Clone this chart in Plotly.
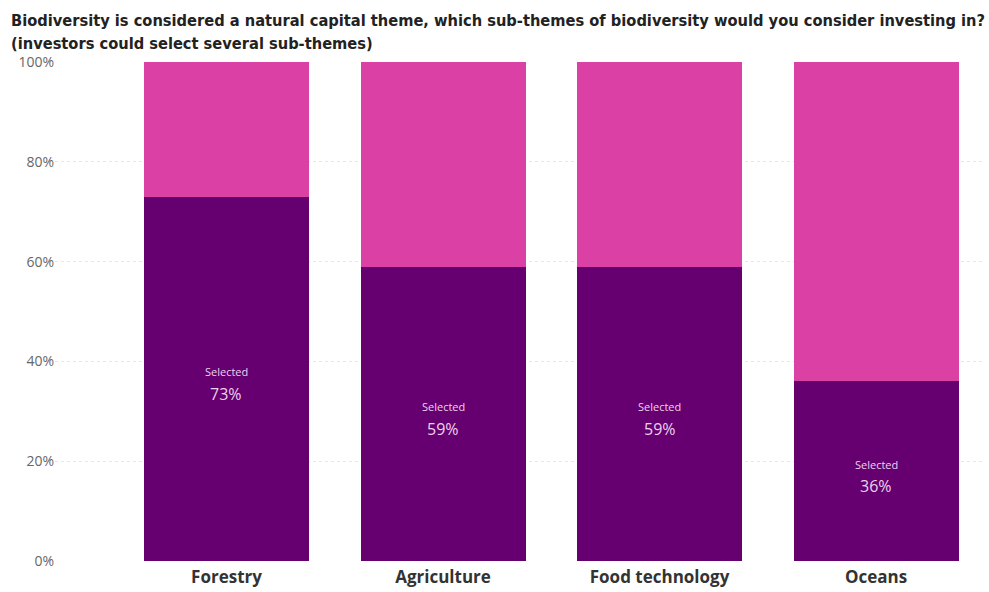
import plotly.graph_objects as go

categories = ["Forestry", "Agriculture", "Food technology", "Oceans"]
selected = [73, 59, 59, 36]
not_selected = [27, 41, 41, 64]
y_ticks = [0, 20, 40, 60, 80, 100]
y_tick_labels = ["0%", "20%", "40%", "60%", "80%", "100%"]

x_pos = list(range(len(categories)))
PURPLE = "#660070"
PINK = "#DB40A4"
LABEL = "#EBD3EC"

fig = go.Figure()
fig.add_trace(go.Bar(
    x=x_pos, y=selected, width=0.762, marker=dict(color=PURPLE, line=dict(width=0)),
    hoverinfo="skip", name="Selected",
))
fig.add_trace(go.Bar(
    x=x_pos, y=not_selected, width=0.762, marker=dict(color=PINK, line=dict(width=0)),
    hoverinfo="skip", name="Not selected",
))

# Two-line value labels centred in the "Selected" segment
for xi, v in zip(x_pos, selected):
    fig.add_annotation(x=xi, y=v / 2, text="Selected", showarrow=False, yshift=7,
                       font=dict(family="Open Sans", size=11, color=LABEL))
    fig.add_annotation(x=xi, y=v / 2, text=f"{v}%", showarrow=False, yshift=-15,
                       font=dict(family="Open Sans", size=16, color=LABEL))

title_font = dict(family="DejaVu Sans Condensed", size=16.3, color="#222222", weight="bold")
fig.add_annotation(xref="paper", yref="paper", x=-0.05, y=1.084, xanchor="left", yanchor="middle",
                   showarrow=False, font=title_font,
                   text="Biodiversity is considered a natural capital theme, which sub-themes of biodiversity would you consider investing in?")
fig.add_annotation(xref="paper", yref="paper", x=-0.05, y=1.037, xanchor="left", yanchor="middle",
                   showarrow=False, font=title_font,
                   text="(investors could select several sub-themes)")

fig.update_layout(
    barmode="stack",
    width=989, height=592,
    margin=dict(l=55, r=4, t=62, b=27),
    paper_bgcolor="white", plot_bgcolor="white",
    showlegend=False,
    font=dict(family="Open Sans"),
    xaxis=dict(
        range=[-0.792, 3.503], tickvals=x_pos, ticktext=categories,
        showgrid=False, zeroline=False, showline=False, ticks="",
        ticklabelstandoff=4,
        tickfont=dict(family="Open Sans", size=17, color="#333333", weight="bold"),
    ),
    yaxis=dict(
        range=[0, 100], tickvals=y_ticks, ticktext=y_tick_labels,
        showgrid=True, gridcolor="#E6E6E6", griddash="dot", gridwidth=1,
        zeroline=False, showline=False, ticks="",
        tickfont=dict(family="Open Sans", size=14, color="#666666"),
    ),
)

fig.write_html("out.html")
